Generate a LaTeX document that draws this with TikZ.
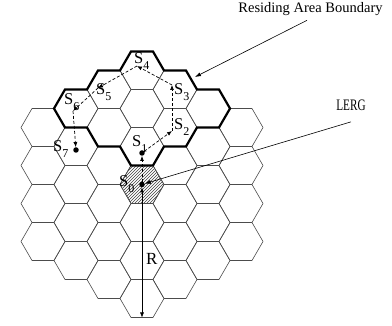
\documentclass[tikz,border=0pt]{standalone}
\usepackage{fontspec}
\setmainfont{Liberation Serif}
\usetikzlibrary{arrows.meta, patterns}

\newcommand{\slab}[1]{S\raisebox{-0.33em}{\fontsize{12}{12}\selectfont #1}}

\begin{document}
\begin{tikzpicture}[x=1pt, y=-1pt,
  cellline/.style={draw=black!70, line width=0.6pt},
  boundary/.style={draw=black, line width=2.2pt, line join=miter},
  move/.style={dash pattern=on 3pt off 2pt, line width=0.7pt, -{Latex[length=5pt, width=4pt]}},
  pointer/.style={line width=0.6pt, -{Latex[length=6pt, width=4pt]}},
  dot/.style={circle, fill=black, inner sep=0pt, minimum size=5.5pt},
  slabel/.style={anchor=base west, inner sep=0pt, font=\fontsize{16.5}{18}\selectfont},
  cell/.pic={\path[cellline] (-22,0) -- (-11,-19) -- (11,-19) -- (22,0) -- (11,19) -- (-11,19) -- cycle;}]
\useasboundingbox (0,0) rectangle (392,326);

% hatched home cell
\fill[pattern=north east lines, pattern color=black!75] (142,184.5) ++(-22,0) -- ++(11,-19) -- ++(22,0) -- ++(11,19) -- ++(-11,19) -- ++(-22,0) -- cycle;

% cells
\foreach \k in {-3,...,3} {
  \pgfmathtruncatemacro{\n}{6-abs(\k)}
  \foreach \j in {0,...,\n}
    \pic at ({142+33*\k}, {184.5+38*(\j-\n/2)}) {cell};
}

% residing area
\draw[boundary] (54,108.5) -- (65,89.5) -- (87,89.5) -- (98,70.5) -- (120,70.5) -- (131,51.5) -- (153,51.5)
  -- (164,70.5) -- (186,70.5) -- (197,89.5) -- (219,89.5) -- (230,108.5) -- (219,127.5) -- (197,127.5)
  -- (186,146.5) -- (164,146.5) -- (153,165.5) -- (131,165.5) -- (120,146.5) -- (98,146.5) -- (87,127.5)
  -- (65,127.5) -- cycle;

% path of the terminal
\node[dot] (p0) at (142,184.5) {};
\node[dot] (p1) at (142,153) {};
\coordinate (p2) at (172,131);
\coordinate (p3) at (172,85);
\coordinate (p4) at (137,66);
\coordinate (p5) at (98,88);
\coordinate (p6) at (73,111);
\node[dot] (p7) at (76,150) {};

\draw[move] (p0) -- (p1);
\draw[move] (p1) -- (p2);
\draw[move] (p2) -- (p3);
\draw[move] (p3) -- (p4);
\draw[move] (p4) -- (p5);
\draw[move] (p5) -- (p6);
\draw[move] (p6) -- (p7);

\node[slabel] (l0) at (119,187) {\slab{0}};
\node[slabel] (l1) at (132,147) {\slab{1}};
\node[slabel] (l2) at (174,130) {\slab{2}};
\node[slabel] (l3) at (174,95) {\slab{3}};
\node[slabel] (l4) at (134,64) {\slab{4}};
\node[slabel] (l5) at (96,95) {\slab{5}};
\node[slabel] (l6) at (64,105) {\slab{6}};
\node[slabel] (l7) at (53,152) {\slab{7}};

% radius
\coordinate (bot) at (142,317.5);
\draw[line width=0.6pt, {Latex[length=5pt, width=4pt]}-{Latex[length=5pt, width=4pt]}] (p0) -- (bot);
\node[anchor=base west, inner sep=0pt, font=\fontsize{17}{19}\selectfont] (rlab) at (146,265) {R};

% callouts
\node[anchor=base, inner sep=0pt, font=\fontsize{14.5}{17}\selectfont] (rab) at (310.5,12.5) {Residing Area Boundary};
\coordinate (bnd) at (195,77);
\draw[pointer] ([xshift=-3.5pt, yshift=-4.5pt]rab.south) -- (bnd);

\node[anchor=base, inner sep=0pt, xscale=0.7, font=\fontsize{16}{18}\selectfont] (lerg) at (351,110.5) {LERG};
\draw[pointer] ([yshift=-11pt]lerg.south) -- (p0);
\end{tikzpicture}
\end{document}
